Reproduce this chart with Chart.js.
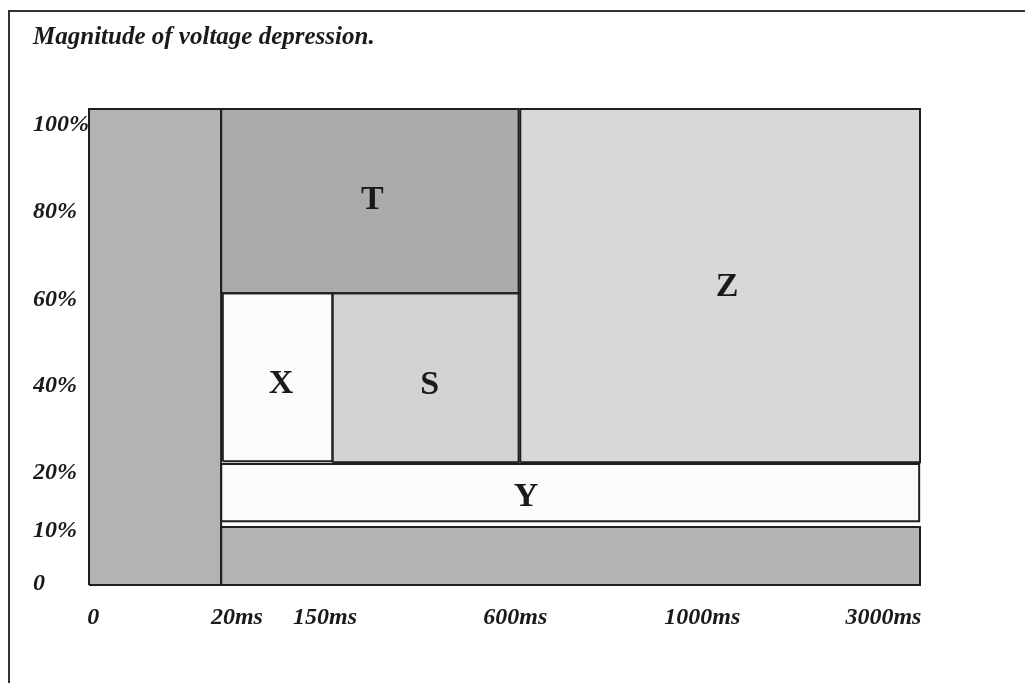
<!DOCTYPE html>
<html lang="en">
<head>
  <meta charset="UTF-8">
  <title>Magnitude of voltage depression</title>
  <script src="https://cdn.jsdelivr.net/npm/chart.js"></script>
  <style>
    html, body {
      margin: 0;
      padding: 0;
      background: #fff;
    }
    #wrap {
      width: 1025px;
      height: 683px;
    }
  </style>
</head>
<body>
  <div id="wrap"><canvas id="depressionChart"></canvas></div>

  <script>
    // axis ticks (the diagram is schematic, so ticks sit on a 0-100 layout axis)
    const xTickLabels = ['0', '20ms', '150ms', '600ms', '1000ms', '3000ms'];
    const xTickAt = [0.5, 17.8, 28.4, 51.3, 73.8, 95.6];
    const yTickLabels = ['0', '10%', '20%', '40%', '60%', '80%', '100%'];
    const yTickAt = [0.2, 11.3, 23.6, 41.8, 59.9, 78.4, 96.6];

    // regions of the diagram
    const regionNames = ['', 'T', 'X', 'S', 'Z', 'Y', ''];
    const regionX0 = [0, 15.9, 16.1, 29.3, 51.9, 15.9, 15.9];
    const regionX1 = [15.9, 51.7, 29.3, 51.7, 100, 99.9, 100];
    const regionY0 = [0, 61.3, 26.0, 25.8, 25.8, 13.4, 0];
    const regionY1 = [100, 100, 61.3, 61.3, 100, 25.4, 12.2];
    const regionColors = ['#b3b3b3', '#ababab', '#fbfbfb', '#d3d3d3', '#d8d8d8', '#fbfbfb', '#b4b4b4'];

    // where the letters go
    const labelX = [null, 34.1, 23.1, 41.0, 76.8, 52.6, null];
    const labelY = [null, 80.9, 42.2, 42.0, 62.6, 18.4, null];

    const datasets = [];
    regionNames.forEach((name, i) => {
      // outline
      datasets.push({
        label: 'outline ' + i,
        data: [
          {x: regionX0[i], y: regionY0[i]},
          {x: regionX0[i], y: regionY1[i]},
          {x: regionX1[i], y: regionY1[i]},
          {x: regionX1[i], y: regionY0[i]},
          {x: regionX0[i], y: regionY0[i]}
        ],
        borderColor: '#1f1f1f',
        borderWidth: 2,
        pointRadius: 0,
        fill: false,
        tension: 0,
        clip: false,
        order: 1
      });
      // filled box
      datasets.push({
        label: 'region ' + i,
        data: [
          {x: regionX0[i], y: regionY1[i]},
          {x: regionX1[i], y: regionY1[i]}
        ],
        borderWidth: 0,
        borderColor: 'rgba(0,0,0,0)',
        backgroundColor: regionColors[i],
        pointRadius: 0,
        fill: {value: regionY0[i]},
        order: 2
      });
    });

    const regionLetters = {
      id: 'regionLetters',
      afterDatasetsDraw(chart) {
        const ctx = chart.ctx;
        const xs = chart.scales.x, ys = chart.scales.y;
        ctx.save();
        ctx.font = 'bold 34px "Liberation Serif", serif';
        ctx.fillStyle = '#1a1a1a';
        ctx.textAlign = 'center';
        ctx.textBaseline = 'middle';
        regionNames.forEach((name, i) => {
          if (!name) return;
          ctx.fillText(name, xs.getPixelForValue(labelX[i]), ys.getPixelForValue(labelY[i]));
        });
        ctx.restore();
      }
    };

    const frame = {
      id: 'frame',
      afterDraw(chart) {
        const ctx = chart.ctx;
        ctx.save();
        ctx.strokeStyle = '#333';
        ctx.lineWidth = 2;
        ctx.beginPath();
        ctx.moveTo(9, chart.height);
        ctx.lineTo(9, 11);
        ctx.lineTo(chart.width, 11);
        ctx.stroke();
        ctx.restore();
      }
    };

    const tickFont = {family: '"Liberation Serif", serif', size: 24, weight: 'bold', style: 'italic'};

    new Chart(document.getElementById('depressionChart'), {
      type: 'line',
      data: { datasets: datasets },
      plugins: [regionLetters, frame],
      options: {
        responsive: true,
        maintainAspectRatio: false,
        animation: false,
        layout: {
          padding: {left: 33, right: 105, top: 10, bottom: 0}
        },
        plugins: {
          legend: { display: false },
          tooltip: { enabled: false },
          title: {
            display: true,
            text: 'Magnitude of voltage depression.',
            align: 'start',
            color: '#1a1a1a',
            font: {family: '"Liberation Serif", serif', size: 25, weight: 'bold', style: 'italic'},
            padding: {top: 13, bottom: 56}
          }
        },
        scales: {
          x: {
            type: 'linear',
            min: 0,
            max: 100,
            grid: { display: false, drawTicks: false },
            border: { display: false },
            ticks: {
              autoSkip: false,
              maxRotation: 0,
              padding: 18,
              color: '#1a1a1a',
              font: tickFont,
              callback: (v, i) => xTickLabels[i]
            },
            afterBuildTicks: (scale) => {
              scale.ticks = xTickAt.map(v => ({value: v}));
            },
            afterFit: (scale) => {
              scale.height = 98;
              scale.paddingLeft = 0;
              scale.paddingRight = 0;
            }
          },
          y: {
            type: 'linear',
            min: 0,
            max: 100,
            grid: { display: false, drawTicks: false },
            border: { display: false },
            ticks: {
              autoSkip: false,
              crossAlign: 'far',
              color: '#1a1a1a',
              font: tickFont,
              callback: (v, i) => yTickLabels[i]
            },
            afterBuildTicks: (scale) => {
              scale.ticks = yTickAt.map(v => ({value: v}));
            },
            afterFit: (scale) => {
              scale.width = 56;
              scale.paddingTop = 0;
              scale.paddingBottom = 0;
            }
          }
        }
      }
    });
  </script>
</body>
</html>
